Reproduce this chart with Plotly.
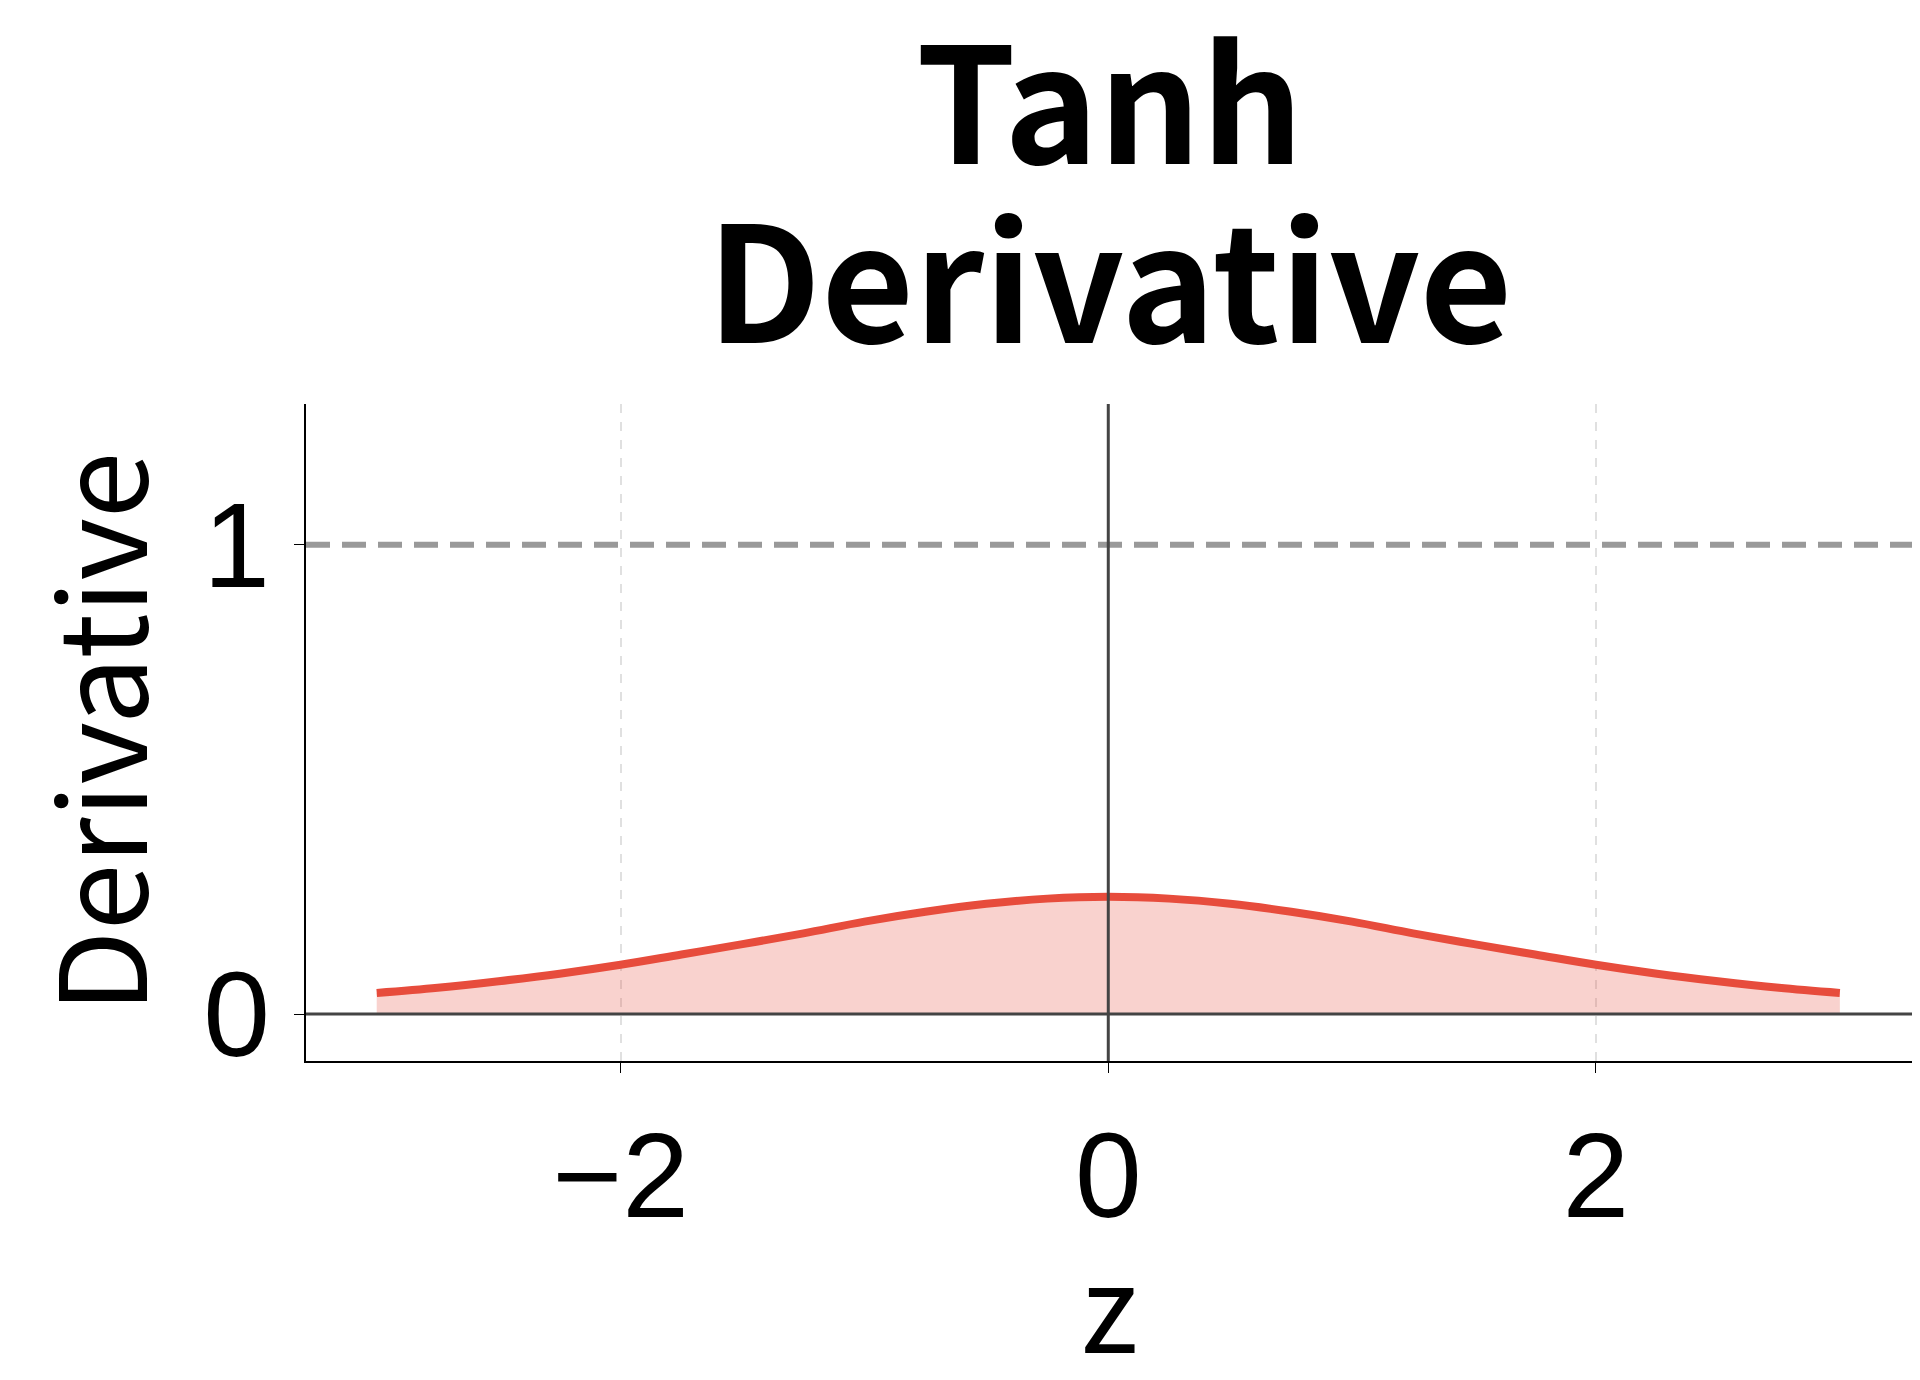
import plotly.graph_objects as go

z = [-3.0,-2.75,-2.5,-2.25,-2.0,-1.75,-1.5,-1.25,-1.0,-0.75,-0.5,-0.25,0.0,
     0.25,0.5,0.75,1.0,1.25,1.5,1.75,2.0,2.25,2.5,2.75,3.0]
deriv = [0.045,0.056,0.070,0.086,0.105,0.127,0.149,0.172,0.197,0.218,0.235,0.246,0.25,
         0.246,0.235,0.218,0.197,0.172,0.149,0.127,0.105,0.086,0.070,0.056,0.045]
title_lines = ["Tanh", "Derivative"]

fig = go.Figure()
fig.add_trace(go.Scatter(x=z, y=deriv, mode="lines", line=dict(color="#e74c3c", width=8, shape="spline"),
                         fill="tozeroy", fillcolor="rgba(231,76,60,0.25)", showlegend=False))
fig.add_hline(y=1, line=dict(color="#999999", width=6, dash="24px,12px"))
fig.add_hline(y=0, line=dict(color="#444444", width=3))
fig.add_vline(x=0, line=dict(color="#444444", width=3))

for txt, yp in zip(title_lines, [1.472, 1.20]):
    fig.add_annotation(text="<b>" + txt + "</b>", xref="paper", yref="paper", x=0.5, y=yp,
                       showarrow=False, xanchor="center", yanchor="middle",
                       font=dict(size=160, family="Noto Sans CJK JP"))

fig.update_layout(
    width=1920, height=1380, plot_bgcolor="white", paper_bgcolor="white",
    margin=dict(l=298, r=15, t=396, b=327),
    font=dict(family="Noto Sans CJK JP, Liberation Sans", color="black"),
)
fig.update_xaxes(range=[-3.29, 3.30], tickvals=[-2, 0, 2], ticktext=["−2", "0", "2"],
                 tickfont=dict(size=120, family="Liberation Sans"), showline=True, linecolor="black",
                 linewidth=2, ticks="outside", ticklen=10, tickcolor="black", ticklabelstandoff=0,
                 showgrid=True, gridcolor="#e0e0e0", griddash="dash", gridwidth=2, zeroline=False,
                 title=dict(text="z", font=dict(size=120), standoff=20))
fig.update_yaxes(range=[-0.1, 1.3], tickvals=[0, 1], tickfont=dict(size=120, family="Liberation Sans"),
                 showline=True, linecolor="black", linewidth=2, ticks="outside", ticklen=10,
                 tickcolor="black", showgrid=False, zeroline=False,
                 title=dict(text="Derivative", font=dict(size=120), standoff=30))
fig.write_html("out.html")
